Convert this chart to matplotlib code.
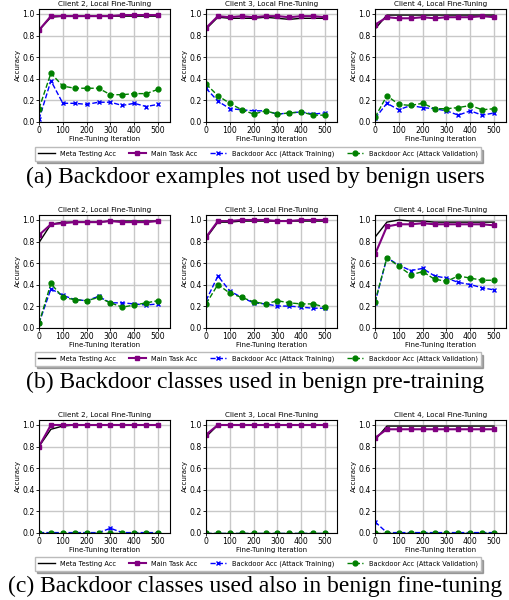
import numpy as np
import matplotlib.pyplot as plt

iters = [0, 50, 100, 150, 200, 250, 300, 350, 400, 450, 500]
clients = ['Client 2', 'Client 3', 'Client 4']

captions = ['(a) Backdoor examples not used by benign users',
            '(b) Backdoor classes used in benign pre-training',
            '(c) Backdoor classes used also in benign fine-tuning']

# row a
meta_a = [[0.85, 0.97, 0.98, 0.98, 0.98, 0.98, 0.98, 0.98, 0.98, 0.98, 0.98],
          [0.86, 0.97, 0.96, 0.96, 0.96, 0.97, 0.96, 0.95, 0.96, 0.96, 0.96],
          [0.86, 0.99, 0.99, 0.99, 0.99, 0.99, 0.99, 0.99, 0.99, 0.99, 0.99]]
main_a = [[0.85, 0.98, 0.98, 0.98, 0.98, 0.98, 0.98, 0.99, 0.99, 0.99, 0.99],
          [0.87, 0.98, 0.97, 0.98, 0.97, 0.98, 0.98, 0.97, 0.98, 0.98, 0.97],
          [0.90, 0.97, 0.96, 0.96, 0.97, 0.96, 0.97, 0.97, 0.97, 0.98, 0.97]]
bdtr_a = [[0.02, 0.38, 0.17, 0.17, 0.16, 0.18, 0.18, 0.15, 0.17, 0.14, 0.16],
          [0.31, 0.19, 0.12, 0.11, 0.10, 0.10, 0.07, 0.08, 0.09, 0.07, 0.08],
          [0.03, 0.17, 0.11, 0.15, 0.13, 0.12, 0.10, 0.06, 0.10, 0.06, 0.08]]
bdva_a = [[0.12, 0.45, 0.33, 0.31, 0.31, 0.31, 0.25, 0.25, 0.26, 0.26, 0.30],
          [0.35, 0.24, 0.17, 0.11, 0.07, 0.10, 0.07, 0.08, 0.09, 0.06, 0.06],
          [0.04, 0.24, 0.16, 0.15, 0.17, 0.12, 0.12, 0.13, 0.15, 0.11, 0.12]]

# row b
meta_b = [[0.79, 0.96, 0.98, 0.98, 0.98, 0.98, 0.99, 0.99, 0.99, 0.99, 0.99],
          [0.83, 0.98, 0.98, 0.99, 0.99, 0.99, 0.99, 0.99, 0.99, 0.99, 0.99],
          [0.84, 0.98, 1.00, 0.99, 0.99, 0.98, 0.98, 0.98, 0.98, 0.98, 0.98]]
main_b = [[0.86, 0.96, 0.97, 0.98, 0.98, 0.98, 0.99, 0.98, 0.98, 0.98, 0.99],
          [0.84, 0.99, 0.99, 1.00, 1.00, 1.00, 0.99, 0.99, 1.00, 1.00, 1.00],
          [0.68, 0.94, 0.96, 0.96, 0.97, 0.96, 0.96, 0.96, 0.96, 0.96, 0.95]]
bdtr_b = [[0.04, 0.36, 0.30, 0.26, 0.25, 0.29, 0.23, 0.23, 0.22, 0.21, 0.22],
          [0.25, 0.48, 0.34, 0.28, 0.23, 0.22, 0.20, 0.20, 0.19, 0.18, 0.18],
          [0.23, 0.65, 0.58, 0.53, 0.55, 0.48, 0.46, 0.42, 0.40, 0.37, 0.35]]
bdva_b = [[0.04, 0.41, 0.28, 0.26, 0.25, 0.28, 0.23, 0.19, 0.21, 0.23, 0.25],
          [0.22, 0.40, 0.32, 0.28, 0.24, 0.22, 0.25, 0.23, 0.22, 0.22, 0.19],
          [0.24, 0.65, 0.57, 0.49, 0.52, 0.45, 0.43, 0.48, 0.46, 0.44, 0.44]]

# row c
meta_c = [[0.80, 0.96, 0.99, 1.00, 1.00, 1.00, 1.00, 1.00, 1.00, 1.00, 1.00],
          [0.89, 1.00, 1.00, 1.00, 1.00, 1.00, 1.00, 1.00, 1.00, 1.00, 1.00],
          [0.86, 0.99, 0.99, 0.99, 0.99, 0.99, 0.99, 0.99, 0.99, 0.99, 0.99]]
main_c = [[0.80, 1.00, 1.00, 1.00, 1.00, 1.00, 1.00, 1.00, 1.00, 1.00, 1.00],
          [0.91, 1.00, 1.00, 1.00, 1.00, 1.00, 1.00, 1.00, 1.00, 1.00, 1.00],
          [0.88, 0.96, 0.96, 0.96, 0.96, 0.96, 0.96, 0.96, 0.96, 0.96, 0.96]]
bdtr_c = [[0.00, 0.00, 0.00, 0.00, 0.00, 0.00, 0.04, 0.00, 0.00, 0.00, 0.00],
          [0.00, 0.00, 0.00, 0.00, 0.00, 0.00, 0.00, 0.00, 0.00, 0.00, 0.00],
          [0.10, 0.00, 0.00, 0.00, 0.00, 0.00, 0.00, 0.00, 0.00, 0.00, 0.00]]
bdva_c = [[0.00] * 11, [0.00] * 11, [0.00] * 11]

rows = [(meta_a, main_a, bdtr_a, bdva_a),
        (meta_b, main_b, bdtr_b, bdva_b),
        (meta_c, main_c, bdtr_c, bdva_c)]

W, H = 510, 600
fig = plt.figure(figsize=(W / 100, H / 100), dpi=100)

lefts = [39, 206, 375]
tops = [8.6, 214.6, 419.6]
aw, ah = 131, 113
leg_y = [154, 359, 564]
cap_y = [177, 382, 586]

for r, (meta, main, bdtr, bdva) in enumerate(rows):
    for c in range(3):
        ax = fig.add_axes([lefts[c] / W, 1 - (tops[r] + ah) / H, aw / W, ah / H])
        ax.plot(iters, meta[c], color='k', lw=1, label='Meta Testing Acc')
        ax.plot(iters, main[c], color='purple', lw=1.5, marker='s', ms=3.5,
                label='Main Task Acc')
        ax.plot(iters, bdtr[c], color='b', lw=1, ls='--', marker='x', ms=3.5,
                mew=1, label='Backdoor Acc (Attack Training)')
        ax.plot(iters, bdva[c], color='g', lw=1, ls='--', marker='o', ms=3.5,
                label='Backdoor Acc (Attack Validation)')
        ax.set_xlim(0, 550)
        ax.set_ylim(0, 1.05)
        ax.set_xticks([0, 100, 200, 300, 400, 500])
        ax.set_yticks([0.0, 0.2, 0.4, 0.6, 0.8, 1.0])
        ax.grid(True, color='#c8c8c8', lw=1)
        ax.set_axisbelow(True)
        ax.tick_params(labelsize=5.6, length=2, width=0.6, pad=1)
        ax.set_title(clients[c] + ', Local Fine-Tuning', fontsize=5.2, pad=2)
        ax.set_xlabel('Fine-Tuning Iteration', fontsize=5, labelpad=1)
        ax.set_ylabel('Accuracy', fontsize=5, labelpad=1)
        for s in ax.spines.values():
            s.set_linewidth(0.8)
        if c == 0:
            handles, labels = ax.get_legend_handles_labels()
    fig.legend(handles, labels, loc='center', ncol=4, fontsize=4.8,
               bbox_to_anchor=(258 / W, 1 - leg_y[r] / H),
               shadow={'ox': 1.5, 'oy': -1.5, 'color': '0.35'},
               fancybox=False, edgecolor='#bbbbbb', handlelength=2.5,
               columnspacing=1.9, borderpad=0.5)
    fig.text(0.5, 1 - cap_y[r] / H, captions[r], ha='center', va='center',
             fontsize=17, family='Liberation Serif')

fig.savefig('out.png', dpi=100)
